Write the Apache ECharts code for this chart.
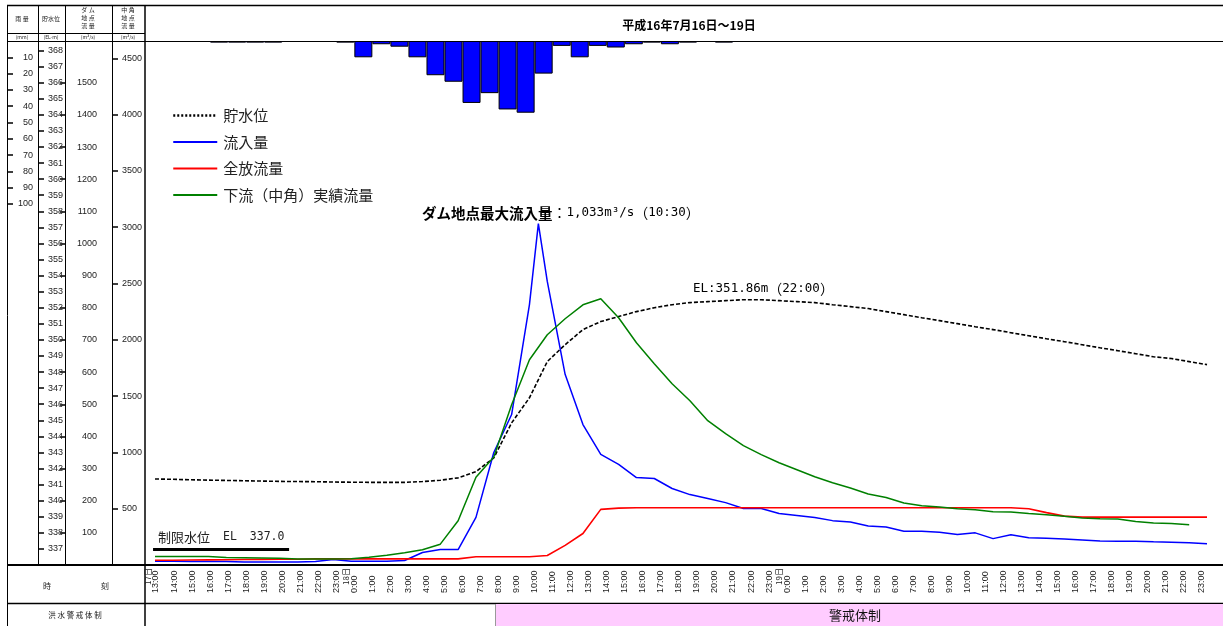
<!DOCTYPE html>
<html><head><meta charset="utf-8">
<script src="https://cdn.jsdelivr.net/npm/echarts@6/dist/echarts.min.js"></script>
<style>html,body{margin:0;padding:0;background:#fff}#c{width:1223px;height:626px}</style>
</head><body><div id="c"></div>
<script>
// ---- tick labels ----
const hourNames = [];
[13,14,15,16,17,18,19,20,21,22,23].forEach(h => hourNames.push(h + ':00'));
for (let d = 0; d < 2; d++) for (let h = 0; h < 24; h++) hourNames.push(h + ':00');
const timeLabels = hourNames;            // 17日13:00 ... 19日23:00 (59 cells)
const dayLabels = ['17日', '18日', '19日'];
const dayLabelAt = [0, 11, 35];
const elTicks = [337,338,339,340,341,342,343,344,345,346,347,348,349,350,351,352,353,354,355,356,357,358,359,360,361,362,363,364,365,366,367,368];
const damTicks = [100,200,300,400,500,600,700,800,900,1000,1100,1200,1300,1400,1500];
const nakaTicks = [500,1000,1500,2000,2500,3000,3500,4000,4500];
const rainTicks = [10,20,30,40,50,60,70,80,90,100];

// ---- data (hour index 0 = 17日13:00) ----
const hours = Array.from({length: 60}, (_, i) => i);
const level = [341.35,341.33,341.30,341.28,341.26,341.24,341.22,341.20,341.19,341.18,
  341.16,341.15,341.14,341.14,341.14,341.19,341.27,341.42,341.81,342.66,
  344.84,346.40,348.65,349.70,350.64,351.14,351.45,351.76,352.00,352.19,
  352.32,352.38,352.44,352.50,352.50,352.44,352.38,352.32,352.19,352.07,
  351.95,351.76,351.57,351.38,351.20,351.01,350.82,350.64,350.45,350.26,
  350.07,349.89,349.70,349.51,349.33,349.14,348.95,348.84,348.65,348.46];
const inflowTimes = [0,1,2,3,4,5,6,7,8,9,10,11,12,13,14,15,16,17,18,19,20,21,21.5,22,23,24,25,26,27,28,29,30,
  31,32,33,34,35,36,37,38,39,40,41,42,43,44,45,46,47,48,49,50,51,52,53,54,55,56,57,58,59];
const inflow = [12,12,11,11,11,9,9,9,9,11,17,12,12,12,14,39,48,48,148,350,468,810,1062,882,593,437,344,313,272,269,238,219,
  207,194,176,176,160,154,148,138,134,121,118,105,105,102,95,100,82,94,85,83,81,78,75,74,74,72,71,69,66];
const release = [15,15,15.5,16,16.5,17,17.5,18,18,19,19,19,19,19,19,19,19,19,25.5,25.5,25.5,25.5,29.6,61,98,173,177,
  178,178,178,178,178,178,178,178,178,178,178,178,178,178,178,178,178,178,178,178,178,178,175,163,152,149,149,149,149,149,149,149,149];
const downstream = [76,76,76,76,67,65,62,59,53,53,54,56,69,87,109,136,185,393,780,959,
  1424,1823,2045,2187,2311,2365,2196,1974,1788,1610,1459,1282,1166,1060,980,908,846,784,731,684,
  631,600,551,527,515,500,491,473,471,458,447,432,417,411,409,387,373,369,358];
const rainStart = [3,4,5,6,10,11,12,13,14,15,16,17,18,19,20,21,22,23,24,25,26,27,28,29,31];
const rain = [1,1,1,1,1,10,2,3.5,10,21,25,38,32,42,44,20,3,10,3,4,2,1,2,1,1];

const pair = (xs, ys) => ys.map((v, i) => [xs[i], v]);
const NUM = '"Liberation Sans Narrow","Liberation Sans",sans-serif';
const JP = '"Noto Sans CJK JP","Noto Sans",sans-serif';
const MONO = '"DejaVu Sans Mono","Liberation Mono",monospace';
const plain = v => String(v);

const chart = echarts.init(document.getElementById('c'), null, {renderer: 'canvas'});

function vline(x, y1, y2, w, c) { return {type:'line', silent:true, shape:{x1:x, y1:y1, x2:x, y2:y2}, style:{stroke:c||'#000', lineWidth:w||1}}; }
function hline(y, x1, x2, w, c) { return {type:'line', silent:true, shape:{x1:x1, y1:y, x2:x2, y2:y}, style:{stroke:c||'#000', lineWidth:w||1}}; }
function txt(x, y, s, size, opt) { return {type:'text', silent:true, x:x, y:y, style:Object.assign({text:s, font:(size||9)+'px ' + JP, fill:'#222', align:'center', verticalAlign:'middle'}, opt||{})}; }
function rtxt(x, y, s, rich) { return {type:'text', silent:true, x:x, y:y, style:{text:s, align:'left', verticalAlign:'middle', rich:rich}}; }

const yBase = {type: 'value', position: 'left', axisLine: {show: false, onZero: false}, splitLine: {show: false}};

const option = {
  animation: false,
  backgroundColor: '#fff',
  title: {text: '平成16年7月16日～19日', left: 684, top: 14, textAlign: 'center',
    textStyle: {fontFamily: JP, fontSize: 12, fontWeight: 'bold', color: '#000'}},
  legend: {
    orient: 'vertical', left: 167, top: 103, itemWidth: 44, itemHeight: 15, itemGap: 11.5,
    itemStyle: {opacity: 0},
    textStyle: {fontFamily: JP, fontSize: 15, color: '#222', padding: [0, 0, 0, 1]},
    data: [
      {name: '貯水位', lineStyle: {type: [2, 2], width: 2.5, color: '#000'}},
      {name: '流入量'}, {name: '全放流量'}, {name: '下流（中角）実績流量'}
    ]
  },
  grid: {left: 145, top: 41, width: 1077, height: 524, containLabel: false},
  xAxis: [
    {type: 'value', min: -0.561, max: 59.84, show: false, axisLine: {onZero: false}},
    {type: 'value', min: -0.61, max: 59.12, position: 'bottom',
      axisLine: {show: false, onZero: false}, axisTick: {show: false}, splitLine: {show: false},
      axisLabel: {customValues: timeLabels.map((_, k) => k), formatter: v => timeLabels[v],
        rotate: 90, align: 'left', margin: 28, fontSize: 9, fontFamily: NUM, color: '#222'}},
    {type: 'value', min: -0.61 + 8 / 18.03, max: 59.12 + 8 / 18.03, position: 'bottom',
      axisLine: {show: false, onZero: false}, axisTick: {show: false}, splitLine: {show: false},
      axisLabel: {customValues: dayLabelAt, formatter: v => dayLabels[dayLabelAt.indexOf(v)],
        rotate: 90, align: 'right', margin: 3, fontSize: 8, fontFamily: JP, color: '#222'}}
  ],
  yAxis: [
    Object.assign({}, yBase, {min: 336, max: 368.59, offset: 107,
      axisTick: {show: true, inside: true, length: 6, customValues: elTicks, lineStyle: {color: '#000', width: 1.5}},
      axisLabel: {inside: true, margin: 10, customValues: elTicks, formatter: plain, fontSize: 9, fontFamily: NUM, color: '#222'}}),
    Object.assign({}, yBase, {min: 0, max: 1630, offset: 80,
      axisTick: {show: true, inside: false, length: 5, customValues: damTicks, lineStyle: {color: '#000', width: 1.5}},
      axisLabel: {inside: true, margin: 32, align: 'right', customValues: damTicks, formatter: plain, fontSize: 9, fontFamily: NUM, color: '#222'}}),
    Object.assign({}, yBase, {min: 0, max: 4654, offset: 33,
      axisTick: {show: true, inside: true, length: 6, customValues: nakaTicks, lineStyle: {color: '#000', width: 1.5}},
      axisLabel: {inside: true, margin: 10, customValues: nakaTicks, formatter: plain, fontSize: 9, fontFamily: NUM, color: '#222'}}),
    Object.assign({}, yBase, {min: 0, max: 321.5, inverse: true, offset: 138,
      axisTick: {show: true, inside: true, length: 6, customValues: rainTicks, lineStyle: {color: '#000', width: 1.5}},
      axisLabel: {inside: true, margin: 26, align: 'right', customValues: rainTicks, formatter: plain, fontSize: 9, fontFamily: NUM, color: '#222'}})
  ],
  series: [
    {name: '雨量', type: 'bar', xAxisIndex: 1, yAxisIndex: 3, barWidth: 18,
      data: pair(rainStart.map(k => k + 0.5), rain),
      itemStyle: {color: '#0000FF', borderColor: '#000', borderWidth: 1}},
    {name: '貯水位', type: 'line', xAxisIndex: 0, yAxisIndex: 0, data: pair(hours, level), symbol: 'none',
      lineStyle: {color: '#000', width: 1.6, type: [4, 2]}, itemStyle: {color: '#000'},
      markLine: {silent: true, symbol: 'none', label: {show: false},
        lineStyle: {color: '#000', width: 3, type: 'solid'},
        data: [[{coord: [-0.11, 337]}, {coord: [7.52, 337]}]]}},
    {name: '流入量', type: 'line', xAxisIndex: 0, yAxisIndex: 1, data: pair(inflowTimes, inflow), symbol: 'none',
      lineStyle: {color: '#0000FF', width: 1.5}, itemStyle: {color: '#0000FF'}},
    {name: '全放流量', type: 'line', xAxisIndex: 0, yAxisIndex: 1, data: pair(hours, release), symbol: 'none',
      lineStyle: {color: '#FF0000', width: 1.6}, itemStyle: {color: '#FF0000'}},
    {name: '下流（中角）実績流量', type: 'line', xAxisIndex: 0, yAxisIndex: 2, data: pair(hours, downstream), symbol: 'none',
      lineStyle: {color: '#008000', width: 1.5}, itemStyle: {color: '#008000'}}
  ],
  graphic: [
    hline(5.5, 7, 1223, 1.5), hline(33.5, 7, 145, 1), hline(41.5, 7, 1223, 1),
    hline(565, 7, 1223, 2), hline(603.5, 7, 1223, 1.5),
    vline(7.5, 5, 626, 1), vline(38.5, 5, 565, 1), vline(65.5, 5, 565, 1), vline(112.5, 5, 565, 1), vline(145, 5, 626, 1.5),
    {type: 'rect', silent: true, shape: {x: 495, y: 604, width: 728, height: 22}, style: {fill: '#FFCCFF', stroke: null}},
    vline(495.5, 604, 626, 1, '#999'),
    txt(22, 19, '雨 量', 6), txt(51, 19, '貯水位', 6),
    txt(88, 10, 'ダ ム', 6), txt(88, 18, '地 点', 6), txt(88, 26, '流 量', 6),
    txt(128, 10, '中 角', 6), txt(128, 18, '地 点', 6), txt(128, 26, '流 量', 6),
    txt(22, 37.5, '(mm)', 5), txt(51, 37.5, '(EL-m)', 5), txt(88, 37.5, '(m³/s)', 5), txt(128, 37.5, '(m³/s)', 5),
    txt(47, 586, '時', 8), txt(105, 586, '刻', 8),
    txt(75, 615, '洪 水 警 戒 体 制', 7.5),
    txt(855, 615, '警戒体制', 13, {fill: '#111'}),
    rtxt(422, 213, '{b|ダム地点最大流入量}{j|：}{m|1,033m³/s}{j|（}{m|10:30}{j|）}', {
      b: {font: 'bold 14.5px ' + JP, fill: '#000'}, j: {font: '14px ' + JP, fill: '#000'},
      m: {font: '12.5px ' + MONO, fill: '#000'}}),
    rtxt(693, 289, '{m|EL:351.86m}{j|（}{m|22:00}{j|）}', {
      j: {font: '14px ' + JP, fill: '#000'}, m: {font: '12.5px ' + MONO, fill: '#000'}}),
    rtxt(158, 537, '{j|制限水位　}{m|EL}{j|　}{m|337.0}', {
      j: {font: '13px ' + JP, fill: '#222'}, m: {font: '11.5px ' + MONO, fill: '#222'}})
  ]
};
chart.setOption(option);
</script></body></html>
